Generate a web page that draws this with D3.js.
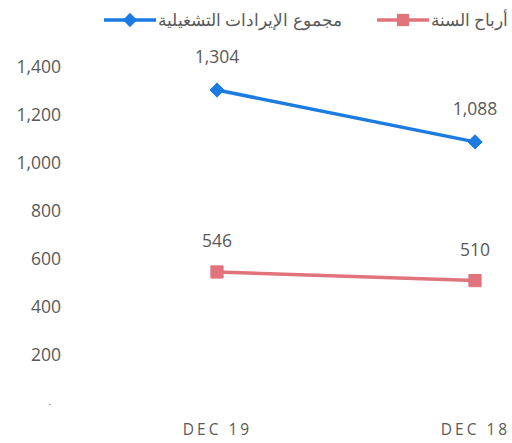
<!DOCTYPE html>
<html>
<head>
<meta charset="utf-8">
<script src="https://cdn.jsdelivr.net/npm/d3@7"></script>
<style>
  body { margin: 0; background: #fff; overflow: hidden; }
  text { font-family: "Open Sans", "Noto Sans", sans-serif; fill: #595959; }
</style>
</head>
<body>
<svg id="chart" width="512" height="443"></svg>
<script>
// chart data
const periods = ['DEC 19', 'DEC 18'];
const revenue = [1304, 1088];
const profit = [546, 510];
const yTicks = [0, 200, 400, 600, 800, 1000, 1200, 1400];
const seriesNames = ['مجموع الإيرادات التشغيلية', 'أرباح السنة'];

const svg = d3.select('#chart');

const x = d3.scalePoint()
    .domain(periods)
    .range([217, 475]);

const y = d3.scaleLinear()
    .domain([0, 1400])
    .range([403, 67]);

// y axis labels
const yAxis = svg.append('g')
    .attr('transform', 'translate(61,0)')
    .call(d3.axisLeft(y).tickValues(yTicks).tickSize(0).tickPadding(0)
        .tickFormat(d => d === 0 ? '-' : d3.format(',')(d)));
yAxis.select('.domain').remove();
yAxis.selectAll('text')
    .style('font-size', '17.5px')
    .style('fill', '#595959')
    .attr('font-family', null);
yAxis.selectAll('.tick').filter(d => d === 0).select('text')
    .style('font-size', '8px')
    .attr('dx', -10);

// x axis labels
const xAxis = svg.append('g')
    .attr('transform', 'translate(0,435)')
    .call(d3.axisBottom(x).tickSize(0).tickPadding(0));
xAxis.select('.domain').remove();
xAxis.selectAll('text')
    .attr('y', 0)
    .attr('dy', 0)
    .style('font-size', '15.5px')
    .style('letter-spacing', '3px')
    .style('fill', '#595959')
    .attr('font-family', null);

const series = [
    { name: seriesNames[0], values: revenue, color: '#1b7be0', shape: d3.symbolDiamond2, size: 130, labelDy: -27 },
    { name: seriesNames[1], values: profit, color: '#e0737b', shape: d3.symbolSquare2, size: 190, labelDy: -25 }
];

const line = d3.line()
    .x((d, i) => x(periods[i]))
    .y(d => y(d));

series.forEach(s => {
    svg.append('path')
        .datum(s.values)
        .attr('d', line)
        .attr('fill', 'none')
        .attr('stroke', s.color)
        .attr('stroke-width', 3.5);

    svg.selectAll(null)
        .data(s.values)
        .enter().append('path')
        .attr('transform', (d, i) => `translate(${x(periods[i])},${y(d)})`)
        .attr('d', d3.symbol().type(s.shape).size(s.size))
        .attr('fill', s.color)
        .attr('stroke', s.color)
        .attr('stroke-width', 1);

    svg.selectAll(null)
        .data(s.values)
        .enter().append('text')
        .attr('x', (d, i) => x(periods[i]))
        .attr('y', d => y(d) + s.labelDy)
        .attr('text-anchor', 'middle')
        .style('font-size', '17.5px')
        .text(d => d3.format(',')(d));
});

// legend
const legendPos = [130, 403];
series.forEach((s, i) => {
    const g = svg.append('g').attr('transform', `translate(${legendPos[i]},20)`);
    g.append('line')
        .attr('x1', -26).attr('x2', 26)
        .attr('stroke', s.color)
        .attr('stroke-width', 3.5);
    g.append('path')
        .attr('d', d3.symbol().type(s.shape).size(s.size))
        .attr('fill', s.color);
    g.append('text')
        .attr('x', 28)
        .attr('y', 6)
        .attr('direction', 'rtl')
        .attr('text-anchor', 'end')
        .style('font-size', '16.5px')
        .text(s.name);
});
</script>
</body>
</html>
